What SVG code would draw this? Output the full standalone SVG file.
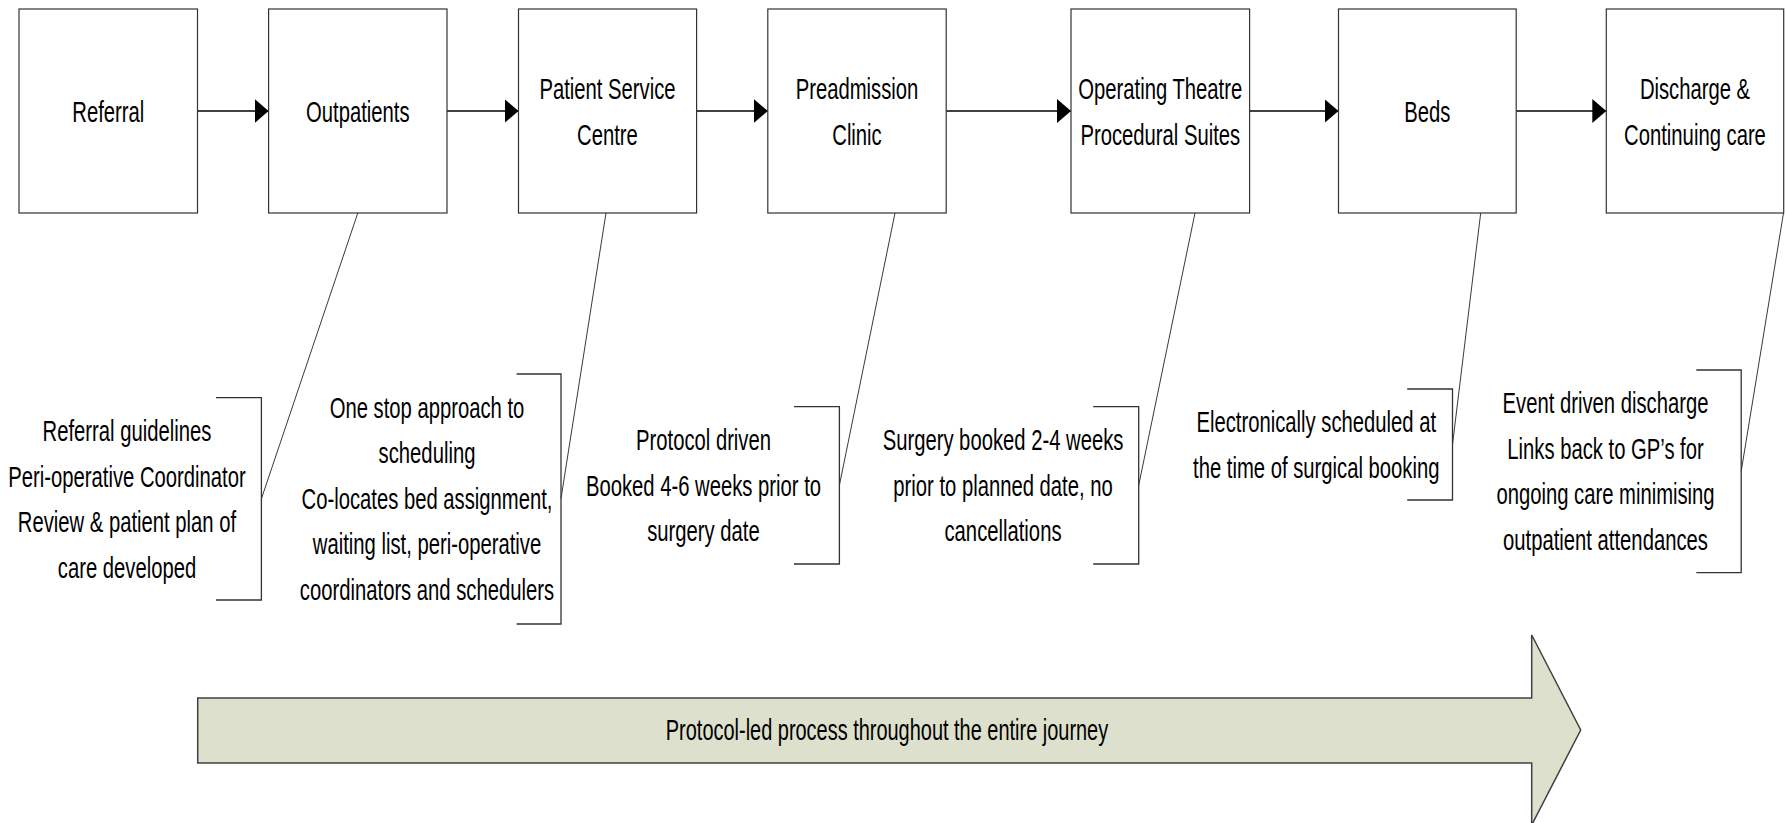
<svg xmlns="http://www.w3.org/2000/svg" width="1786" height="823" viewBox="0 0 1786 823">
<style>
.box{fill:#fff;stroke:#333;stroke-width:1.2}
.t{font-family:"Liberation Sans",Arial,sans-serif;font-size:30px;fill:#000;text-anchor:middle}
.conn{stroke:#000;stroke-width:1.3;fill:none}
.lead{stroke:#222;stroke-width:0.9;fill:none}
.br{stroke:#333;stroke-width:1.3;fill:none}
</style>
<defs>
<marker id="ah" markerUnits="userSpaceOnUse" markerWidth="14" markerHeight="24" refX="14" refY="12" orient="auto">
<path d="M0,0 L14,12 L0,24 z" fill="#000"/>
</marker>
</defs>
<rect width="1786" height="823" fill="#fff"/>

<g id="connectors">
<line class="conn" x1="197.5" y1="111" x2="268.6" y2="111" marker-end="url(#ah)"/>
<line class="conn" x1="447" y1="111" x2="518.5" y2="111" marker-end="url(#ah)"/>
<line class="conn" x1="696.6" y1="111" x2="767.8" y2="111" marker-end="url(#ah)"/>
<line class="conn" x1="946.2" y1="111" x2="1071" y2="111" marker-end="url(#ah)"/>
<line class="conn" x1="1249.6" y1="111" x2="1338.5" y2="111" marker-end="url(#ah)"/>
<line class="conn" x1="1516.2" y1="111" x2="1606.3" y2="111" marker-end="url(#ah)"/>
<line class="lead" x1="357.8" y1="213" x2="261.4" y2="498.8"/>
<line class="lead" x1="606" y1="213" x2="561" y2="498.5"/>
<line class="lead" x1="895" y1="213" x2="839.4" y2="485.3"/>
<line class="lead" x1="1195" y1="213" x2="1138.7" y2="485.3"/>
<line class="lead" x1="1480.7" y1="213" x2="1452.5" y2="444.5"/>
<line class="lead" x1="1783.5" y1="213" x2="1741.2" y2="471.3"/>
</g>

<g id="referral">
<rect class="box" x="19" y="9" width="178.5" height="204"/>
<text class="t" transform="translate(108.25 0) scale(0.675 1)"><tspan x="0" y="122">Referral</tspan></text>
</g>
<g id="outpatients">
<rect class="box" x="268.6" y="9" width="178.4" height="204"/>
<text class="t" transform="translate(357.8 0) scale(0.675 1)"><tspan x="0" y="122">Outpatients</tspan></text>
</g>
<g id="patient-service-centre">
<rect class="box" x="518.5" y="9" width="178.1" height="204"/>
<text class="t" transform="translate(607.5 0) scale(0.675 1)"><tspan x="0" y="99.5">Patient Service</tspan><tspan x="0" y="145">Centre</tspan></text>
</g>
<g id="preadmission-clinic">
<rect class="box" x="767.8" y="9" width="178.4" height="204"/>
<text class="t" transform="translate(857 0) scale(0.675 1)"><tspan x="0" y="99.5">Preadmission</tspan><tspan x="0" y="145">Clinic</tspan></text>
</g>
<g id="operating-theatre">
<rect class="box" x="1071" y="9" width="178.6" height="204"/>
<text class="t" transform="translate(1160.3 0) scale(0.675 1)"><tspan x="0" y="99.5">Operating Theatre</tspan><tspan x="0" y="145">Procedural Suites</tspan></text>
</g>
<g id="beds">
<rect class="box" x="1338.5" y="9" width="177.7" height="204"/>
<text class="t" transform="translate(1427.3 0) scale(0.675 1)"><tspan x="0" y="122">Beds</tspan></text>
</g>
<g id="discharge">
<rect class="box" x="1606.3" y="9" width="177.4" height="204"/>
<text class="t" transform="translate(1695 0) scale(0.675 1)"><tspan x="0" y="99.5">Discharge &amp;</tspan><tspan x="0" y="145">Continuing care</tspan></text>
</g>

<g id="note-referral">
<path class="br" d="M216,397.7 H261.4 V600 H216"/>
<text class="t" transform="translate(127 0) scale(0.675 1)"><tspan x="0" y="441.5">Referral guidelines</tspan><tspan x="0" y="487">Peri-operative Coordinator</tspan><tspan x="0" y="532.5">Review &amp; patient plan of</tspan><tspan x="0" y="578">care developed</tspan></text>
</g>
<g id="note-psc">
<path class="br" d="M516.6,374 H561 V624 H516.6"/>
<text class="t" transform="translate(427 0) scale(0.675 1)"><tspan x="0" y="418">One stop approach to</tspan><tspan x="0" y="463.5">scheduling</tspan><tspan x="0" y="509">Co-locates bed assignment,</tspan><tspan x="0" y="554.5">waiting list, peri-operative</tspan><tspan x="0" y="600">coordinators and schedulers</tspan></text>
</g>
<g id="note-preadmission">
<path class="br" d="M793.9,406.7 H839.4 V564 H793.9"/>
<text class="t" transform="translate(703.5 0) scale(0.675 1)"><tspan x="0" y="450.5">Protocol driven</tspan><tspan x="0" y="496">Booked 4-6 weeks prior to</tspan><tspan x="0" y="541.5">surgery date</tspan></text>
</g>
<g id="note-theatre">
<path class="br" d="M1093.2,406.7 H1138.7 V564 H1093.2"/>
<text class="t" transform="translate(1003 0) scale(0.675 1)"><tspan x="0" y="450.5">Surgery booked 2-4 weeks</tspan><tspan x="0" y="496">prior to planned date, no</tspan><tspan x="0" y="541.5">cancellations</tspan></text>
</g>
<g id="note-beds">
<path class="br" d="M1407.2,389 H1452.5 V500 H1407.2"/>
<text class="t" transform="translate(1316.3 0) scale(0.675 1)"><tspan x="0" y="432.2">Electronically scheduled at</tspan><tspan x="0" y="477.7">the time of surgical booking</tspan></text>
</g>
<g id="note-discharge">
<path class="br" d="M1696.3,370 H1741.2 V572.7 H1696.3"/>
<text class="t" transform="translate(1605.5 0) scale(0.675 1)"><tspan x="0" y="413.5">Event driven discharge</tspan><tspan x="0" y="459">Links back to GP’s for</tspan><tspan x="0" y="504.5">ongoing care minimising</tspan><tspan x="0" y="550">outpatient attendances</tspan></text>
</g>

<g id="journey-arrow">
<path d="M197.7,698 H1531.7 V635 L1580.7,730 L1531.7,825 V763 H197.7 Z" fill="#dde0cc" stroke="#404040" stroke-width="1.5"/>
<text class="t" transform="translate(887 0) scale(0.665 1)"><tspan x="0" y="740.5">Protocol-led process throughout the entire journey</tspan></text>
</g>
</svg>
